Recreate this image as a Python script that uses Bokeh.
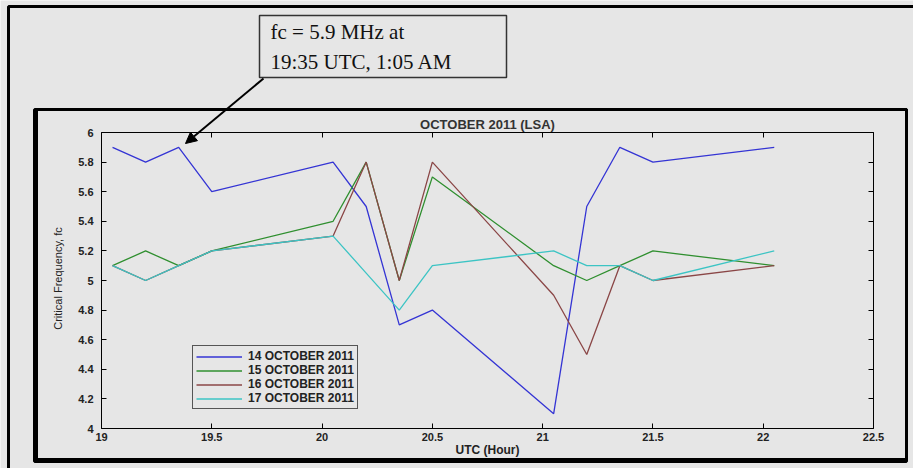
import math
from bokeh.plotting import figure
from bokeh.models import (Range1d, FixedTicker, LinearAxis, BoxAnnotation, Label,
                          Arrow, NormalHead, Legend, LegendItem)
from bokeh.embed import file_html
from bokeh.resources import INLINE

# ---------------- data ----------------
hours = [19.05, 19.2, 19.35, 19.5, 20.05, 20.2, 20.35, 20.5, 21.05, 21.2, 21.35, 21.5, 22.05]
oct14 = [5.9, 5.8, 5.9, 5.6, 5.8, 5.5, 4.7, 4.8, 4.1, 5.5, 5.9, 5.8, 5.9]
oct15 = [5.1, 5.2, 5.1, 5.2, 5.4, 5.8, 5.0, 5.7, 5.1, 5.0, 5.1, 5.2, 5.1]
oct16 = [5.1, 5.0, 5.1, 5.2, 5.3, 5.8, 5.0, 5.8, 4.9, 4.5, 5.1, 5.0, 5.1]
oct17 = [5.1, 5.0, 5.1, 5.2, 5.3, 5.05, 4.8, 5.1, 5.2, 5.1, 5.1, 5.0, 5.2]
series_labels = ["14 OCTOBER 2011", "15 OCTOBER 2011", "16 OCTOBER 2011", "17 OCTOBER 2011"]

x_ticks = [19, 19.5, 20, 20.5, 21, 21.5, 22, 22.5]
x_tick_labels = ["19", "19.5", "20", "20.5", "21", "21.5", "22", "22.5"]
y_ticks = [4, 4.2, 4.4, 4.6, 4.8, 5, 5.2, 5.4, 5.6, 5.8, 6]
y_tick_labels = ["4", "4.2", "4.4", "4.6", "4.8", "5", "5.2", "5.4", "5.6", "5.8", "6"]
x_min, x_max = 19, 22.5
y_min, y_max = 4, 6

title_text = "OCTOBER 2011 (LSA)"
x_label = "UTC (Hour)"
y_label = "Critical Frequency, fc"
note_line1 = "fc = 5.9 MHz at"
note_line2 = "19:35 UTC, 1:05 AM"

# ---------------- layout / styling ----------------
BG = "#e6e6e6"
COLORS = ["#3434d4", "#2f8f2f", "#8a4646", "#3cc4c4"]
SANS = "Liberation Sans"
SERIF = "Liberation Serif"

W, H = 913, 468
# axes box in canvas pixels
PX0, PX1, PY0, PY1 = 101, 873, 132, 428

kx = (x_max - x_min) / (PX1 - PX0)
ky = (y_max - y_min) / (PY1 - PY0)
xr = Range1d(x_min - PX0 * kx, x_max + (W - PX1) * kx)
yr = Range1d(y_min - (H - PY1) * ky, y_max + PY0 * ky)


def sx(ix):
    return ix


def sy(iy):
    return H - iy


p = figure(width=W, height=H, x_range=xr, y_range=yr,
           x_axis_type=None, y_axis_type=None,
           output_backend="svg", toolbar_location=None,
           min_border=0, background_fill_color=BG, border_fill_color=BG,
           outline_line_color=None)
p.grid.visible = False

xt = FixedTicker(ticks=x_ticks)
yt = FixedTicker(ticks=y_ticks)

bottom_axis = LinearAxis(ticker=xt, fixed_location=y_min, bounds=(x_min, x_max))
top_axis = LinearAxis(ticker=xt, fixed_location=y_max, bounds=(x_min, x_max))
left_axis = LinearAxis(ticker=yt, fixed_location=x_min, bounds=(y_min, y_max))
right_axis = LinearAxis(ticker=yt, fixed_location=x_max, bounds=(y_min, y_max))
p.add_layout(bottom_axis, "below")
p.add_layout(top_axis, "above")
p.add_layout(left_axis, "left")
p.add_layout(right_axis, "right")

for ax in [bottom_axis, top_axis, left_axis, right_axis]:
    ax.major_tick_in = 5
    ax.major_tick_out = 0
    ax.minor_tick_line_color = None
    ax.axis_line_color = "black"
    ax.axis_line_width = 1
    ax.major_tick_line_color = "black"
    ax.major_label_text_font = SANS
    ax.major_label_text_font_size = "11px"
    ax.major_label_text_font_style = "bold"
    ax.major_label_text_color = "#222222"

bottom_axis.major_label_overrides = {t: s for t, s in zip(x_ticks, x_tick_labels)}
left_axis.major_label_overrides = {t: s for t, s in zip(y_ticks, y_tick_labels)}
bottom_axis.major_label_standoff = 4
left_axis.major_label_standoff = 8
for ax in [top_axis, right_axis]:
    ax.major_label_text_color = None
    ax.major_label_standoff = 0

# ---------------- lines ----------------
renderers = []
for ys, c in zip([oct14, oct15, oct16, oct17], COLORS):
    r = p.line(hours, ys, line_color=c, line_width=1.3)
    renderers.append(r)

legend = Legend(items=[LegendItem(label=l, renderers=[r]) for l, r in zip(series_labels, renderers)],
                location=(sx(192), sy(409)), padding=3, spacing=0, margin=0,
                glyph_width=46, glyph_height=11, label_height=11, label_standoff=6,
                label_text_font=SANS, label_text_font_size="12px", label_text_font_style="bold",
                label_text_color="#222222", label_text_line_height=1.0,
                border_line_color="#555555", border_line_width=1, border_line_alpha=1,
                background_fill_color=BG, background_fill_alpha=1)
p.add_layout(legend)

# ---------------- texts ----------------
p.add_layout(Label(x=sx(487), y=sy(124), x_units="screen", y_units="screen", text=title_text,
                   text_align="center", text_baseline="middle", text_font=SANS,
                   text_font_size="13px", text_font_style="bold", text_color="#333333"))
p.add_layout(Label(x=sx(487), y=sy(449), x_units="screen", y_units="screen", text=x_label,
                   text_align="center", text_baseline="middle", text_font=SANS,
                   text_font_size="12px", text_font_style="bold", text_color="#222222"))
p.add_layout(Label(x=sx(57), y=sy(278), x_units="screen", y_units="screen", text=y_label,
                   angle=math.pi / 2, text_align="center", text_baseline="middle",
                   text_font=SANS, text_font_size="11px", text_color="#222222"))

# ---------------- decorations ----------------
def box(l, r, t, b, **kw):
    return BoxAnnotation(left=sx(l), right=sx(r), top=sy(t), bottom=sy(b),
                         left_units="screen", right_units="screen", top_units="screen",
                         bottom_units="screen", **kw)


# outer page border (top and left edges visible)
p.add_layout(box(8, 1300, 6, 1300, fill_color=None, line_color="black", line_alpha=1,
                 line_width=3))
# inner figure frame
p.add_layout(box(36, 906, 109, 459, fill_color=None, line_color="black", line_alpha=1,
                 line_width=3))
p.add_layout(box(34, 906, 109, 461, fill_color=None, line_color="black", line_alpha=1,
                 line_width=3))

# annotation box with arrow
p.add_layout(box(259, 506, 15, 77, fill_color=BG, fill_alpha=1,
                 line_color="#333333", line_alpha=1, line_width=1.5))
p.add_layout(Label(x=sx(270), y=sy(31), x_units="screen", y_units="screen", text=note_line1,
                   text_baseline="middle", text_font=SERIF, text_font_size="21px",
                   text_color="#111111"))
p.add_layout(Label(x=sx(270), y=sy(61), x_units="screen", y_units="screen", text=note_line2,
                   text_baseline="middle", text_font=SERIF, text_font_size="21px",
                   text_color="#111111"))
p.add_layout(Arrow(x_start=sx(263), y_start=sy(78), x_end=sx(185), y_end=sy(143),
                   start_units="screen", end_units="screen", line_color="black", line_width=2,
                   end=NormalHead(size=11, fill_color="black", line_color="black")))

open("out.html", "w").write(file_html(p, INLINE))
